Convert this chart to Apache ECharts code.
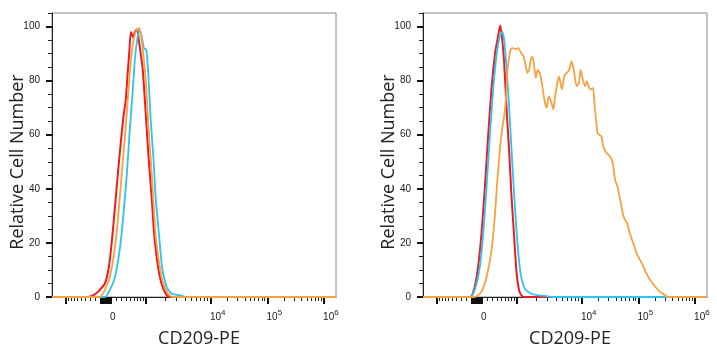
<!DOCTYPE html>
<html>
<head>
<meta charset="utf-8">
<script src="https://cdn.jsdelivr.net/npm/echarts@6/dist/echarts.min.js"></script>
<style>
html, body { margin: 0; background: #fff; }
#chart { width: 717px; height: 350px; }
</style>
</head>
<body>
<div id="chart"></div>
<script>
// x values are logicle display units (10^4 -> 4, 10^5 -> 5, 10^6 -> 6)
const isotypeLeft = [[1.20,0],[1.80,0],[1.92,0.6],[2.01,2],[2.13,5],[2.20,11],[2.26,22],[2.32,36],[2.37,48],[2.42,59],[2.46,67],[2.50,73],[2.53,82],[2.56,90],[2.59,98],[2.63,96],[2.66,98],[2.70,99],[2.73,95],[2.77,89],[2.80,84],[2.83,75],[2.87,62],[2.91,49.5],[2.96,36],[3.00,23.6],[3.06,12.5],[3.13,5],[3.22,0.7],[3.28,0],[6.21,0]];
const stainedLeft = [[1.20,0],[2.04,0],[2.13,2.6],[2.22,7.5],[2.31,18.6],[2.37,31],[2.43,45.8],[2.49,60.6],[2.53,71.7],[2.57,82.8],[2.62,92.7],[2.66,97],[2.70,98.9],[2.74,99.5],[2.78,95],[2.82,87.8],[2.86,77.9],[2.90,63],[2.95,48],[2.99,34.7],[3.03,22.3],[3.09,12.5],[3.16,5],[3.25,1.1],[3.32,0],[6.21,0]];
const blankLeft = [[1.20,0],[2.13,0],[2.22,2.6],[2.31,7.5],[2.40,18.6],[2.46,31],[2.52,45.8],[2.57,61.9],[2.62,75.4],[2.66,87.8],[2.70,95],[2.74,98.9],[2.78,96.4],[2.82,92],[2.86,91.5],[2.90,81.6],[2.94,65.5],[2.99,50.7],[3.03,36],[3.09,22.3],[3.14,11.2],[3.22,3.8],[3.31,1.2],[3.40,0.8],[3.50,0.4],[3.56,0],[6.21,0]];

const isotypeRight = [[1.20,0],[2.03,0],[2.11,3.8],[2.17,11.2],[2.23,23.6],[2.29,40.9],[2.35,60.6],[2.41,77.9],[2.47,90.2],[2.51,95],[2.56,100.4],[2.59,96.4],[2.63,86.6],[2.67,70.5],[2.72,53.2],[2.76,37.1],[2.81,21.1],[2.85,8.8],[2.90,2],[2.97,0],[6.21,0]];
const blankRight = [[1.20,0],[2.03,0],[2.11,2.6],[2.20,11.2],[2.26,23.6],[2.32,40.9],[2.38,60.6],[2.44,77.9],[2.50,90.2],[2.56,97],[2.60,97.9],[2.63,95],[2.67,85.3],[2.72,69.3],[2.77,50.7],[2.82,33.4],[2.87,18.6],[2.92,8.8],[2.99,3.2],[3.09,1.4],[3.21,0.7],[3.35,0.4],[3.48,0],[6.21,0]];
const stainedRight = [[1.20,0],[2.11,0],[2.23,2],[2.32,7.5],[2.40,16.2],[2.46,28.5],[2.51,43.3],[2.56,55.7],[2.60,63],[2.63,66.8],[2.66,73],[2.69,84],[2.72,89],[2.75,91.7],[2.79,92],[2.83,91.7],[2.88,92],[2.93,90.2],[2.97,89],[3.00,86.6],[3.04,82.8],[3.07,84],[3.10,87.8],[3.13,89],[3.16,85.3],[3.19,81],[3.22,84],[3.26,82.8],[3.30,78.5],[3.34,73],[3.38,69.9],[3.42,74.2],[3.46,72.3],[3.50,69.3],[3.53,74.2],[3.57,79.1],[3.60,81.6],[3.65,76.7],[3.69,81.6],[3.73,82.8],[3.78,84],[3.82,87.2],[3.86,84],[3.91,77.9],[3.95,79.1],[3.98,84],[4.02,80.4],[4.06,77.9],[4.09,79.8],[4.12,77.9],[4.16,76.7],[4.20,77.3],[4.23,70.5],[4.28,60.6],[4.31,60],[4.35,59.4],[4.38,55.7],[4.44,53.2],[4.50,52],[4.55,49.5],[4.59,43.3],[4.63,40.9],[4.68,36],[4.74,29.7],[4.80,27.3],[4.85,23.6],[4.91,19.9],[4.97,16.2],[5.03,13.7],[5.09,11.2],[5.14,8.8],[5.21,6.3],[5.30,3.8],[5.38,2],[5.47,0.7],[5.53,0],[6.21,0]];

// axis ticks (fluorescence values) and labels
const majorTickValues = [-1000, 0, 1000, 1e4, 1e5, 1e6];
const zeroClusterValues = [-90, -70, -50, -30, -10, 10, 30, 50, 70, 90];
const linearMinorValues = [100, 200, 300, 400, 500, 600, 700, 800, 900];
const decadeMultipliers = [2, 3, 4, 5, 6, 7, 8, 9];
const minorDecades = [1e3, 1e4, 1e5];
const labelValues = [0, 1e4, 1e5, 1e6];
const labelExponents = [null, 4, 5, 6];
const yMajorTicks = [0, 20, 40, 60, 80, 100];
const yMinorTicks = [5, 10, 15, 25, 30, 35, 45, 50, 55, 65, 70, 75, 85, 90, 95, 105];

const X_MIN = 1.196, X_MAX = 6.214, Y_MAX = 105;
const ZERO_AT = 2.145;
const decadePos = { 3: 2.852, 4: 4, 5: 5, 6: 6, 7: 7 };
const LABEL_SHIFT = 0.124;

function toDisplay(v) {
    const a = Math.abs(v), s = Math.sign(v);
    if (a <= 1000) return ZERO_AT + s * (decadePos[3] - ZERO_AT) * Math.asinh(a / 500) / Math.asinh(2);
    const lg = Math.log10(a);
    const n = Math.floor(lg + 1e-9);
    return decadePos[n] + (decadePos[n + 1] - decadePos[n]) * (lg - n);
}

const majorTicks = majorTickValues.concat(zeroClusterValues).map(toDisplay);
const minorTicks = [];
linearMinorValues.forEach(v => { minorTicks.push(toDisplay(v)); minorTicks.push(toDisplay(-v)); });
minorDecades.forEach(d => decadeMultipliers.forEach(m => minorTicks.push(toDisplay(m * d))));
const labelPos = labelValues.map(v => toDisplay(v) + LABEL_SHIFT);

const tickFont = '"Liberation Sans", Arial, sans-serif';
const nameFont = '"Open Sans", "Noto Sans", sans-serif';
const RED = '#ee1b1f', ORANGE = '#f7a140', CYAN = '#2cc3f0';

function xLabel(val) {
    let best = 0;
    labelPos.forEach((p, i) => { if (Math.abs(p - val) < Math.abs(labelPos[best] - val)) best = i; });
    const e = labelExponents[best];
    return e === null ? '{b|0}' : '{b|10}{s|' + e + '}';
}

function xAxes(gridIndex) {
    return [{
        type: 'value', gridIndex: gridIndex, position: 'bottom', offset: 0, min: X_MIN, max: X_MAX,
        axisLine: { show: true, onZero: false, lineStyle: { color: '#222', width: 1 } },
        axisTick: { show: true, customValues: minorTicks, length: 4, lineStyle: { color: '#222', width: 1 } },
        axisLabel: { show: false },
        splitLine: { show: false }
    }, {
        type: 'value', gridIndex: gridIndex, position: 'bottom', offset: 0, min: X_MIN, max: X_MAX,
        axisLine: { show: false, onZero: false },
        axisTick: { show: true, customValues: majorTicks, length: 7, lineStyle: { color: '#111', width: 2 } },
        axisLabel: {
            show: true, customValues: labelPos, margin: 12, formatter: xLabel,
            rich: {
                b: { fontSize: 10, lineHeight: 16, color: '#1a1a1a', fontFamily: tickFont },
                s: { fontSize: 8, lineHeight: 6, verticalAlign: 'top', color: '#1a1a1a', fontFamily: tickFont }
            }
        },
        splitLine: { show: false },
        name: 'CD209-PE', nameLocation: 'middle', nameGap: 33,
        nameTextStyle: { fontSize: 18, color: '#222', fontFamily: nameFont, padding: [0, 0, 0, 10] }
    }];
}

function yAxes(gridIndex) {
    return [{
        type: 'value', gridIndex: gridIndex, position: 'left', offset: 0, min: 0, max: Y_MAX,
        axisLine: { show: true, onZero: false, lineStyle: { color: '#222', width: 1 } },
        axisTick: { show: true, customValues: yMinorTicks, length: 4, lineStyle: { color: '#222', width: 1 } },
        axisLabel: { show: false },
        splitLine: { show: false }
    }, {
        type: 'value', gridIndex: gridIndex, position: 'left', offset: 0, min: 0, max: Y_MAX,
        axisLine: { show: false, onZero: false },
        axisTick: { show: true, customValues: yMajorTicks, length: 6, lineStyle: { color: '#111', width: 2 } },
        axisLabel: { show: true, customValues: yMajorTicks, margin: 12, fontSize: 10, color: '#1a1a1a', fontFamily: tickFont },
        splitLine: { show: false },
        name: 'Relative Cell Number', nameLocation: 'middle', nameGap: 25, nameMoveOverlap: false,
        nameTextStyle: { fontSize: 18, color: '#222', fontFamily: nameFont, padding: [0, 14, 0, 0] }
    }];
}

function line(data, color, axisIndex, width) {
    return {
        type: 'line', data: data, xAxisIndex: axisIndex, yAxisIndex: axisIndex,
        showSymbol: false, smooth: 0.2, animation: false,
        lineStyle: { color: color, width: width }
    };
}

const chart = echarts.init(document.getElementById('chart'), null, { renderer: 'canvas' });
chart.setOption({
    backgroundColor: '#fff',
    animation: false,
    grid: [
        { left: 52, top: 13, width: 284, height: 284, show: true, borderColor: '#888', borderWidth: 1, containLabel: false, outerBoundsMode: 'none' },
        { left: 423, top: 13, width: 284, height: 284, show: true, borderColor: '#888', borderWidth: 1, containLabel: false, outerBoundsMode: 'none' }
    ],
    xAxis: xAxes(0).concat(xAxes(1)),
    yAxis: yAxes(0).concat(yAxes(1)),
    series: [
        line(isotypeLeft, RED, 0, 2),
        line(blankLeft, CYAN, 0, 1.8),
        line(stainedLeft, ORANGE, 0, 1.8),
        line(isotypeRight, RED, 2, 2),
        line(blankRight, CYAN, 2, 1.8),
        line(stainedRight, ORANGE, 2, 1.8)
    ]
});
</script>
</body>
</html>
